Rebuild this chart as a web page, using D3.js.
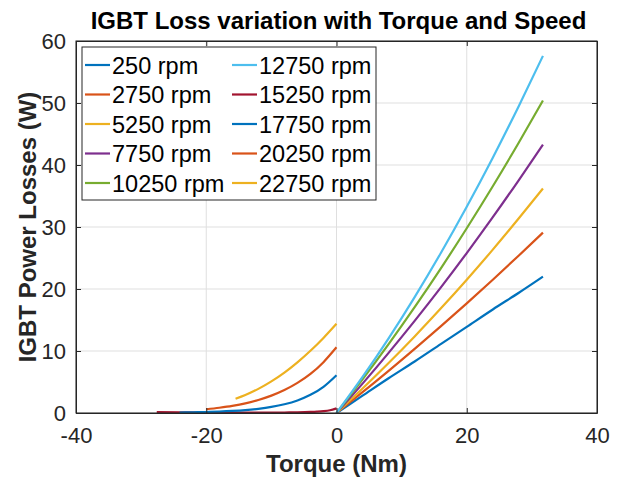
<!DOCTYPE html>
<html>
<head>
<meta charset="utf-8">
<script src="https://cdn.jsdelivr.net/npm/d3@7"></script>
<style>
  html, body { margin: 0; padding: 0; background: #fff; }
  svg { display: block; font-family: "Liberation Sans", Arial, Helvetica, sans-serif; }
</style>
</head>
<body>
<svg id="chart" width="622" height="478"></svg>
<script>
// Speed labels, in legend order
const speeds = ["250 rpm", "2750 rpm", "5250 rpm", "7750 rpm", "10250 rpm",
                "12750 rpm", "15250 rpm", "17750 rpm", "20250 rpm", "22750 rpm"];
const colors = ["#0072BD", "#D95319", "#EDB120", "#7E2F8E", "#77AC30",
                "#4DBEEE", "#A2142F", "#0072BD", "#D95319", "#EDB120"];

// Motoring region (positive torque, Nm) and IGBT losses (W)
const torquePos = [0, 4, 8, 12, 16, 20, 24, 28, 31.7];
const loss250   = [0, 2.8, 5.6, 8.3, 11.1, 13.9, 16.7, 19.4, 22.0];
const loss2750  = [0, 3.36, 6.80, 10.35, 13.97, 17.69, 21.5, 25.4, 29.1];
const loss5250  = [0, 3.94, 8.06, 12.35, 16.84, 21.5, 26.35, 31.4, 36.2];
const loss7750  = [0, 4.74, 9.70, 14.86, 20.22, 25.8, 31.58, 37.58, 43.3];
const loss10250 = [0, 5.42, 11.10, 17.06, 23.29, 29.8, 36.58, 43.63, 50.4];
const loss12750 = [0, 5.81, 12.04, 18.7, 25.77, 33.26, 41.18, 49.52, 57.6];

// Generating region (negative torque)
const torque15250 = [-27.6, -24, -20, -16, -12, -8, -6, -4, -3, -2, -1, 0];
const loss15250   = [0.15, 0.1, 0.07, 0.06, 0.06, 0.08, 0.11, 0.17, 0.22, 0.3, 0.45, 0.75];
const torque17750 = [-24.1, -22, -20, -18, -16, -14, -12, -10, -8, -6, -4, -2, 0];
const loss17750   = [0.07, 0.11, 0.16, 0.23, 0.33, 0.47, 0.68, 0.98, 1.41, 2.03, 2.93, 4.23, 6.1];
const torque20250 = [-20, -18, -16, -14, -12, -10, -8, -6, -4, -2, 0];
const loss20250   = [0.6, 0.85, 1.15, 1.55, 2.1, 2.8, 3.7, 4.85, 6.3, 8.2, 10.6];
const torque22750 = [-15.5, -14, -12, -10, -8, -6, -4, -2, 0];
const loss22750   = [2.3, 2.9, 3.89, 5.1, 6.52, 8.17, 10.03, 12.11, 14.4];

const xTicks = [-40, -20, 0, 20, 40];
const yTicks = [0, 10, 20, 30, 40, 50, 60];

const seriesX = [torquePos, torquePos, torquePos, torquePos, torquePos, torquePos,
                 torque15250, torque17750, torque20250, torque22750];
const seriesY = [loss250, loss2750, loss5250, loss7750, loss10250, loss12750,
                 loss15250, loss17750, loss20250, loss22750];

const svg = d3.select("#chart");
const pLeft = 76, pRight = 597, pTop = 41, pBottom = 413;
const x = d3.scaleLinear().domain([-40, 40]).range([pLeft, pRight]);
const y = d3.scaleLinear().domain([0, 60]).range([pBottom, pTop]);
const axisColor = "#262626";

// Grid
const grid = svg.append("g");
grid.selectAll(".gx").data(xTicks).join("line")
  .attr("x1", d => x(d)).attr("x2", d => x(d))
  .attr("y1", pTop).attr("y2", pBottom)
  .attr("stroke", "#dfdfdf").attr("stroke-width", 1);
grid.selectAll(".gy").data(yTicks).join("line")
  .attr("x1", pLeft).attr("x2", pRight)
  .attr("y1", d => y(d)).attr("y2", d => y(d))
  .attr("stroke", "#dfdfdf").attr("stroke-width", 1);

// Curves
const line = d3.line().x(d => x(d[0])).y(d => y(d[1])).curve(d3.curveMonotoneX);
seriesY.forEach((ys, i) => {
  const pts = ys.map((v, j) => [seriesX[i][j], v]);
  svg.append("path").datum(pts)
    .attr("d", line)
    .attr("fill", "none")
    .attr("stroke", colors[i])
    .attr("stroke-width", 2.2)
    .attr("stroke-linejoin", "round");
});

// Axes (bottom/left with labels, top/right ticks only) - inward ticks
const tickLen = 5;
const axB = svg.append("g").attr("transform", `translate(0,${pBottom})`)
  .call(d3.axisBottom(x).tickValues(xTicks).tickSizeInner(-tickLen).tickSizeOuter(0).tickPadding(14));
const axT = svg.append("g").attr("transform", `translate(0,${pTop})`)
  .call(d3.axisTop(x).tickValues(xTicks).tickSizeInner(-tickLen).tickSizeOuter(0).tickFormat(""));
const axL = svg.append("g").attr("transform", `translate(${pLeft},0)`)
  .call(d3.axisLeft(y).tickValues(yTicks).tickSizeInner(-tickLen).tickSizeOuter(0).tickPadding(10));
const axR = svg.append("g").attr("transform", `translate(${pRight},0)`)
  .call(d3.axisRight(y).tickValues(yTicks).tickSizeInner(-tickLen).tickSizeOuter(0).tickFormat(""));

[axB, axT, axL, axR].forEach(a => {
  a.select(".domain").attr("stroke", axisColor);
  a.selectAll(".tick line").attr("stroke", axisColor);
  a.selectAll(".tick text").attr("fill", axisColor)
    .style("font-size", "22px")
    .style("font-family", "'Liberation Sans', Arial, sans-serif");
});
axB.selectAll(".tick text").text(d => d < 0 ? "-" + Math.abs(d) : d);

// Frame
svg.append("rect").attr("x", pLeft).attr("y", pTop)
  .attr("width", pRight - pLeft).attr("height", pBottom - pTop)
  .attr("fill", "none").attr("stroke", axisColor).attr("stroke-width", 1);

// Title and axis labels
svg.append("text").attr("x", (pLeft + pRight) / 2 + 2).attr("y", 29)
  .attr("text-anchor", "middle").attr("font-weight", "bold")
  .attr("font-size", 24).attr("fill", "#000")
  .text("IGBT Loss variation with Torque and Speed");
svg.append("text").attr("x", (pLeft + pRight) / 2).attr("y", 472)
  .attr("text-anchor", "middle").attr("font-weight", "bold")
  .attr("font-size", 24).attr("fill", axisColor)
  .text("Torque (Nm)");
svg.append("text")
  .attr("transform", `translate(36,${(pTop + pBottom) / 2}) rotate(-90)`)
  .attr("text-anchor", "middle").attr("font-weight", "bold")
  .attr("font-size", 24).attr("fill", axisColor)
  .text("IGBT Power Losses (W)");

// Legend
const lg = svg.append("g");
lg.append("rect").attr("x", 82).attr("y", 47).attr("width", 294).attr("height", 153)
  .attr("fill", "#fff").attr("stroke", axisColor).attr("stroke-width", 1);
speeds.forEach((s, i) => {
  const col = Math.floor(i / 5), row = i % 5;
  const lx = col === 0 ? 85 : 232;
  const cy = 65 + row * 29.5;
  lg.append("line").attr("x1", lx).attr("x2", lx + 25).attr("y1", cy).attr("y2", cy)
    .attr("stroke", colors[i]).attr("stroke-width", 2.2);
  lg.append("text").attr("x", lx + 27).attr("y", cy + 8.5)
    .attr("font-size", 23.5).attr("fill", "#000").text(s);
});
</script>
</body>
</html>
